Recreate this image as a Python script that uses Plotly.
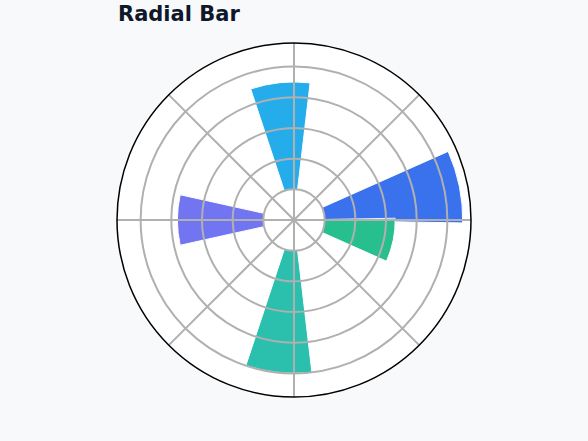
"""Radial bar chart recreated with plotly barpolar."""

import plotly.graph_objects as go

# Data
categories = ['A', 'B', 'C', 'D', 'E']
angles = [11.5, 95.8, 180.0, 264.2, 348.5]   # bar centres, degrees
heights = [4.5, 3.5, 2.8, 4.0, 2.3]
bar_base = 1.0
bar_width = 25
colors = ['#2563eb', '#0ea5e9', '#6366f1', '#14b8a6', '#10b981']
grid_rings = [1, 2, 3, 4, 5]
r_max = 5.77

fig = go.Figure()

fig.add_trace(go.Barpolar(
    r=heights,
    theta=angles,
    base=bar_base,
    width=bar_width,
    text=categories,
    marker=dict(color=colors, opacity=0.9, line=dict(color='white', width=1)),
    showlegend=False,
    subplot='polar',
))

# empty trace so the overlay subplot (gridlines on top of bars) gets drawn
fig.add_trace(go.Scatterpolar(r=[], theta=[], subplot='polar2',
                              showlegend=False, hoverinfo='skip'))

full = dict(x=[0, 1], y=[0, 1])

fig.update_layout(
    width=588, height=441,
    paper_bgcolor='#f8f9fb',
    margin=dict(l=117, r=117, t=43, b=44),
    title=dict(text='<b>Radial Bar</b>', x=118 / 588, xref='container', xanchor='left',
               y=1 - 14 / 441, yref='container', yanchor='middle',
               font=dict(family='DejaVu Sans', size=21, color='#0f172a')),
    polar=dict(
        domain=full,
        bgcolor='white',
        radialaxis=dict(range=[0, r_max], showticklabels=False, ticks='',
                        showline=False, showgrid=False),
        angularaxis=dict(showticklabels=False, ticks='', showline=False,
                         showgrid=False, dtick=45),
    ),
    polar2=dict(
        domain=full,
        bgcolor='rgba(0,0,0,0)',
        radialaxis=dict(range=[0, r_max], showticklabels=False, ticks='',
                        showline=False, tickvals=grid_rings,
                        gridcolor='#b0b0b0', gridwidth=1.5),
        angularaxis=dict(showticklabels=False, ticks='', dtick=45,
                         gridcolor='#b0b0b0', gridwidth=1.5,
                         showline=True, linecolor='black', linewidth=1.5),
    ),
)

# drop the browser's default 8px body margin
fig.write_html("out.html", config={'displayModeBar': False},
               post_script="document.body.style.margin='0';")
